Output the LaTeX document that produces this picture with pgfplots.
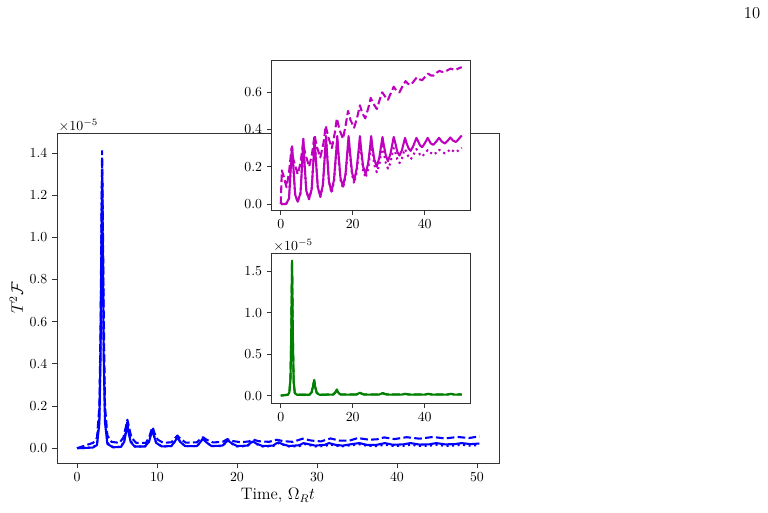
\documentclass[border=0pt]{standalone}
\usepackage{pgfplots}
\pgfplotsset{compat=1.18}
\definecolor{mplm}{rgb}{0.75,0,0.75}
\definecolor{mplg}{rgb}{0,0.5,0}
\pgfplotsset{
  mplstyle/.style={
    scale only axis,
    axis line style={line width=0.6pt, black!80},
    tick style={line width=0.6pt, black!80},
    major tick length=3.5pt,
    tick align=outside,
    xtick pos=bottom, ytick pos=left,
    scaled y ticks=false,
    yticklabel style={/pgf/number format/.cd, fixed, fixed zerofill, precision=1},
    every axis plot/.append style={line width=1.5pt, line join=round},
    clip mode=individual,
  },
  sol/.style={solid},
  dsh/.style={dash pattern=on 5.5pt off 2.4pt},
  dot/.style={dash pattern=on 1.5pt off 2.5pt},
}
\begin{document}
\begin{tikzpicture}[x=0.7227pt,y=0.7227pt]
\useasboundingbox (0,0) rectangle (768,512);
\node[font=\large] at (752,499) {10};
% ---------------- main axis
\begin{axis}[mplstyle,
  at={(41.2pt,35.4pt)}, anchor=south west,
  width=319.4pt, height=238.5pt,
  xmin=-2.5, xmax=52.75, ymin=-0.0705, ymax=1.495,
  xtick={0,10,20,30,40,50},
  ytick={0,0.2,0.4,0.6,0.8,1.0,1.2,1.4},
  xlabel={\large Time, $\Omega_R t$},
  ylabel={\large $T^2\mathcal{F}$},
  xlabel style={yshift=2pt},
  ylabel style={yshift=-2pt},
]
\addplot[blue, sol] coordinates {(0,0) (1,0.001) (2,0.003) (2.5,0.015) (2.8,0.12) (2.95,0.45) (3.05,0.95) (3.14,1.30) (3.23,0.95) (3.33,0.45) (3.5,0.12) (3.8,0.02) (4.5,0.004) (5.5,0.006) (5.9,0.03) (6.15,0.08) (6.28,0.115) (6.42,0.08) (6.7,0.03) (7.2,0.008) (8.5,0.008) (9.0,0.03) (9.3,0.07) (9.42,0.085) (9.6,0.06) (9.9,0.025) (10.6,0.008) (11.8,0.01) (12.2,0.03) (12.55,0.05) (12.9,0.03) (13.5,0.01) (15.0,0.01) (15.45,0.03) (15.75,0.045) (16.1,0.03) (16.8,0.01) (18.2,0.012) (18.6,0.028) (18.9,0.036) (19.3,0.024) (20.0,0.01) (21.3,0.012) (21.7,0.025) (22.0,0.032) (22.4,0.022) (23.2,0.01) (24.5,0.012) (24.9,0.022) (25.2,0.028) (25.6,0.02) (26.5,0.01) (27.8,0.014) (28.3,0.024) (28.8,0.02) (29.8,0.012) (31,0.016) (31.5,0.024) (32.3,0.016) (33.2,0.012) (34.5,0.02) (35.3,0.024) (36.3,0.015) (37.5,0.016) (38.5,0.024) (39.5,0.016) (40.8,0.018) (41.7,0.024) (42.8,0.017) (44,0.018) (44.9,0.024) (46,0.018) (47.2,0.019) (48.1,0.024) (49.2,0.019) (50.3,0.022)};
\addplot[blue, dsh] coordinates {(0,0) (0.5,0.006) (1.2,0.015) (2.0,0.025) (2.5,0.05) (2.8,0.2) (2.95,0.6) (3.05,1.05) (3.14,1.41) (3.24,1.05) (3.35,0.6) (3.5,0.2) (3.8,0.06) (4.3,0.03) (5.3,0.025) (5.8,0.05) (6.1,0.1) (6.3,0.135) (6.5,0.1) (6.8,0.05) (7.4,0.025) (8.6,0.025) (9.0,0.05) (9.3,0.085) (9.45,0.10) (9.7,0.07) (10.1,0.04) (10.8,0.025) (11.8,0.028) (12.2,0.045) (12.55,0.06) (12.9,0.045) (13.6,0.026) (15.0,0.028) (15.45,0.045) (15.75,0.052) (16.2,0.04) (17,0.027) (18.2,0.03) (18.8,0.043) (19.4,0.034) (20.5,0.028) (21.5,0.032) (22.0,0.041) (22.7,0.033) (24.0,0.03) (25.0,0.04) (25.8,0.033) (27.0,0.03) (28.2,0.045) (29.3,0.036) (30.5,0.032) (31.7,0.046) (32.8,0.036) (34.0,0.035) (35.1,0.048) (36.5,0.04) (37.5,0.042) (38.4,0.051) (39.7,0.043) (41.2,0.052) (42.8,0.045) (44.5,0.053) (46.0,0.046) (47.6,0.053) (49.0,0.048) (50.3,0.056)};
\addplot[blue, dot] coordinates {(0,0) (1,0.001) (2,0.004) (2.5,0.02) (2.8,0.15) (2.95,0.5) (3.05,1.0) (3.14,1.35) (3.23,1.0) (3.33,0.5) (3.5,0.15) (3.8,0.025) (4.5,0.005) (5.5,0.007) (5.9,0.035) (6.15,0.09) (6.28,0.125) (6.42,0.09) (6.7,0.035) (7.2,0.008) (8.5,0.008) (9.0,0.035) (9.3,0.08) (9.42,0.095) (9.6,0.065) (9.9,0.025) (10.6,0.008) (11.8,0.01) (12.2,0.03) (12.55,0.055) (12.9,0.03) (13.5,0.01) (15.0,0.01) (15.45,0.03) (15.75,0.048) (16.1,0.03) (16.8,0.01) (18.2,0.01) (18.6,0.027) (18.9,0.036) (19.3,0.022) (20,0.008) (21.3,0.01) (21.7,0.024) (22,0.03) (22.4,0.02) (23.2,0.008) (24.5,0.01) (25,0.02) (25.3,0.025) (25.7,0.017) (26.5,0.008) (27.8,0.01) (28.4,0.02) (29,0.015) (29.8,0.008) (31,0.01) (31.6,0.018) (32.3,0.012) (33.2,0.009) (34.6,0.015) (35.3,0.018) (36.3,0.011) (37.5,0.01) (38.5,0.016) (39.5,0.011) (40.8,0.011) (41.7,0.016) (42.8,0.011) (44,0.011) (44.9,0.016) (46,0.011) (47.2,0.012) (48.1,0.016) (49.2,0.012) (50.3,0.015)};
\node[anchor=south west, inner sep=1pt] at (rel axis cs:0,1) {$\times10^{-5}$};
\end{axis}
% ---------------- top inset
\begin{axis}[mplstyle,
  at={(196.4pt,218.3pt)}, anchor=south west,
  width=143.8pt, height=107.9pt,
  axis background/.style={fill=white},
  xmin=-2.5, xmax=52.8, ymin=-0.032, ymax=0.770,
  xtick={0,20,40}, ytick={0,0.2,0.4,0.6},
]
\addplot[mplm, sol] coordinates {(0,0) (1.5,0.0) (2.3,0.03) (2.8,0.2) (3.14,0.31) (3.5,0.2) (4.0,0.05) (4.7,0.012) (5.5,0.06) (5.95,0.22) (6.28,0.35) (6.6,0.22) (7.1,0.07) (7.85,0.027) (8.6,0.08) (9.1,0.24) (9.42,0.36) (9.75,0.24) (10.3,0.09) (11.0,0.04) (11.7,0.1) (12.25,0.26) (12.57,0.365) (12.9,0.26) (13.4,0.12) (14.1,0.066) (14.8,0.13) (15.4,0.28) (15.71,0.365) (16.0,0.28) (16.6,0.14) (17.3,0.093) (18.0,0.16) (18.55,0.29) (18.85,0.365) (19.2,0.29) (19.8,0.17) (20.4,0.125) (21.1,0.19) (21.7,0.30) (22.0,0.365) (22.3,0.30) (22.9,0.2) (23.6,0.16) (24.3,0.22) (24.85,0.31) (25.13,0.365) (25.45,0.31) (26.0,0.24) (26.7,0.2) (27.4,0.25) (27.95,0.32) (28.27,0.36) (28.6,0.32) (29.2,0.26) (29.8,0.23) (30.5,0.27) (31.1,0.33) (31.4,0.36) (31.8,0.33) (32.4,0.28) (33.0,0.26) (33.7,0.29) (34.2,0.33) (34.55,0.355) (34.9,0.33) (35.5,0.3) (36.1,0.285) (36.8,0.31) (37.4,0.34) (37.7,0.355) (38.1,0.34) (38.7,0.315) (39.3,0.305) (40.0,0.325) (40.84,0.355) (41.7,0.325) (42.4,0.318) (43.2,0.335) (43.98,0.355) (44.8,0.335) (45.6,0.325) (46.4,0.34) (47.12,0.357) (47.9,0.34) (48.7,0.333) (49.5,0.35) (50.3,0.368)};
\addplot[mplm, dsh] coordinates {(0,0) (0.3,0.18) (0.8,0.15) (1.6,0.09) (2.3,0.17) (3.0,0.30) (3.5,0.24) (4.7,0.16) (5.5,0.22) (6.2,0.33) (6.8,0.27) (7.9,0.2) (8.7,0.27) (9.4,0.37) (10,0.31) (11.0,0.25) (11.9,0.33) (12.5,0.42) (13.2,0.36) (14.2,0.3) (15.0,0.38) (15.6,0.46) (16.3,0.40) (17.3,0.35) (18.1,0.43) (18.7,0.50) (19.4,0.45) (20.4,0.41) (21.3,0.47) (22.0,0.53) (22.6,0.49) (23.5,0.46) (24.4,0.52) (25.0,0.57) (25.7,0.54) (26.7,0.51) (27.5,0.56) (28.2,0.60) (28.9,0.58) (29.8,0.56) (30.7,0.60) (31.4,0.63) (32.1,0.61) (33,0.60) (33.9,0.635) (34.7,0.66) (35.4,0.645) (36.2,0.64) (37,0.66) (37.8,0.68) (38.5,0.67) (39.3,0.665) (40.2,0.685) (41,0.70) (41.7,0.69) (42.5,0.69) (43.3,0.705) (44.1,0.715) (44.8,0.71) (45.6,0.71) (46.5,0.72) (47.2,0.727) (48,0.722) (48.8,0.722) (49.6,0.73) (50.3,0.735)};
\addplot[mplm, dot] coordinates {(0,0) (1.5,0) (2.3,0.03) (2.8,0.2) (3.14,0.31) (3.5,0.2) (4.0,0.05) (4.7,0.012) (5.5,0.06) (5.95,0.22) (6.28,0.35) (6.6,0.22) (7.1,0.07) (7.85,0.025) (8.6,0.08) (9.1,0.24) (9.42,0.355) (9.75,0.24) (10.3,0.09) (11.0,0.038) (11.7,0.1) (12.25,0.26) (12.57,0.355) (12.9,0.26) (13.4,0.12) (14.1,0.06) (14.8,0.12) (15.4,0.27) (15.71,0.35) (16.0,0.27) (16.6,0.13) (17.3,0.085) (18.0,0.15) (18.55,0.27) (18.85,0.345) (19.2,0.27) (19.8,0.16) (20.4,0.11) (21.1,0.17) (21.7,0.28) (22.0,0.335) (22.3,0.28) (22.9,0.18) (23.6,0.14) (24.3,0.19) (24.85,0.28) (25.13,0.325) (25.45,0.28) (26.0,0.21) (26.7,0.17) (27.4,0.21) (27.95,0.28) (28.27,0.31) (28.6,0.28) (29.2,0.22) (29.8,0.19) (30.5,0.22) (31.1,0.28) (31.4,0.3) (31.8,0.28) (32.4,0.24) (33.0,0.22) (33.7,0.245) (34.2,0.28) (34.55,0.295) (34.9,0.28) (35.5,0.255) (36.1,0.24) (36.8,0.26) (37.4,0.285) (37.7,0.295) (38.1,0.285) (38.7,0.265) (39.3,0.255) (40.0,0.27) (40.84,0.29) (41.7,0.275) (42.4,0.265) (43.2,0.275) (43.98,0.292) (44.8,0.28) (45.6,0.272) (46.4,0.28) (47.12,0.295) (47.9,0.285) (48.7,0.278) (49.5,0.29) (50.3,0.302)};
\end{axis}
% ---------------- lower inset
\begin{axis}[mplstyle,
  at={(196.4pt,78.6pt)}, anchor=south west,
  width=143.8pt, height=108.4pt,
  axis background/.style={fill=white},
  xmin=-2.5, xmax=52.8, ymin=-0.092, ymax=1.718,
  xtick={0,20,40}, ytick={0,0.5,1.0,1.5},
]
\addplot[mplg, sol] coordinates {(0,0) (1,0.005) (2,0.01) (2.4,0.04) (2.7,0.2) (2.9,0.7) (3.05,1.3) (3.14,1.63) (3.25,1.2) (3.4,0.6) (3.6,0.15) (3.9,0.03) (4.5,0.01) (8,0.01) (8.6,0.04) (9.0,0.12) (9.3,0.19) (9.6,0.1) (10,0.03) (10.8,0.01) (14.6,0.012) (15.2,0.04) (15.6,0.075) (16.0,0.035) (16.6,0.012) (21,0.012) (21.6,0.025) (22.0,0.036) (22.5,0.022) (23.2,0.012) (27.3,0.012) (28.0,0.024) (28.4,0.03) (28.9,0.02) (29.6,0.012) (33.5,0.012) (34.6,0.02) (35.6,0.012) (40,0.012) (41.0,0.02) (42,0.012) (46.3,0.012) (47.3,0.02) (48.3,0.012) (50.3,0.014)};
\addplot[mplg, dsh] coordinates {(0,0) (1,0.006) (2,0.012) (2.4,0.05) (2.7,0.22) (2.9,0.72) (3.05,1.3) (3.14,1.6) (3.25,1.2) (3.4,0.62) (3.6,0.17) (3.9,0.035) (4.5,0.012) (8,0.012) (8.6,0.045) (9.0,0.13) (9.3,0.18) (9.6,0.1) (10,0.035) (10.8,0.012) (14.6,0.014) (15.2,0.042) (15.6,0.07) (16.0,0.035) (16.6,0.014) (21,0.014) (21.6,0.026) (22.0,0.034) (22.5,0.024) (23.2,0.014) (27.3,0.014) (28.0,0.025) (28.4,0.03) (28.9,0.02) (29.6,0.014) (33.5,0.014) (34.6,0.022) (35.6,0.014) (40,0.014) (41.0,0.022) (42,0.014) (46.3,0.014) (47.3,0.022) (48.3,0.014) (50.3,0.016)};
\node[anchor=south west, inner sep=1pt] at (rel axis cs:0,1) {$\times10^{-5}$};
\end{axis}
\end{tikzpicture}
\end{document}
